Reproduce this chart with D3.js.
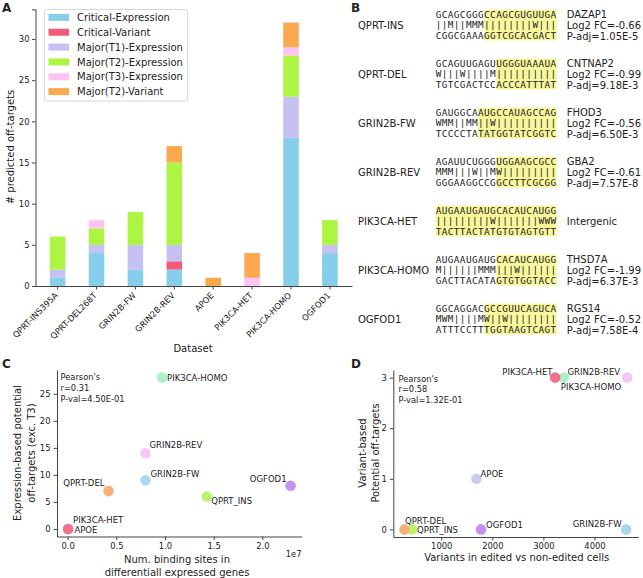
<!DOCTYPE html>
<html><head><meta charset="utf-8">
<script src="https://cdn.jsdelivr.net/npm/d3@7"></script>
<style>body{margin:0;background:#fff}svg{display:block}text{font-family:"DejaVu Sans",sans-serif;fill:#222}</style>
</head><body>
<script>
// ---------- Panel A data ----------
const datasets = ["QPRT-INS395A","QPRT-DEL268T","GRIN2B-FW","GRIN2B-REV","APOE","PIK3CA-HET","PIK3CA-HOMO","OGFOD1"];
const categoriesA = ["Critical-Expression","Critical-Variant","Major(T1)-Expression","Major(T2)-Expression","Major(T3)-Expression","Major(T2)-Variant"];
const criticalExpression = [1,4,2,2,0,0,18,4];
const criticalVariant    = [0,0,0,1,0,0,0,0];
const majorT1Expression  = [1,1,3,2,0,0,5,1];
const majorT2Expression  = [4,2,4,10,0,0,5,3];
const majorT3Expression  = [0,1,0,0,0,1,1,0];
const majorT2Variant     = [0,0,0,2,1,3,3,0];
const yTicksA = [0,5,10,15,20,25,30];
const colorsA = ["#87CEEB","#F25C7A","#C5C1F3","#ADF542","#FFC3F6","#FBA94F"];

// ---------- Panel B data ----------
const bSamples = ["QPRT-INS","QPRT-DEL","GRIN2B-FW","GRIN2B-REV","PIK3CA-HET","PIK3CA-HOMO","OGFOD1"];
const bTop = ["GCAGCGGGCCAGCGUGUUGA","GCAGUUGAGUUGGGUAAAUA","GAUGGCAAUGCCAUAGCCAG","AGAUUCUGGGUGGAAGCGCC","AUGAAUGAUGCACAUCAUGG","AUGAAUGAUGCACAUCAUGG","GGCAGGACGCCGUUCAGUCA"];
const bMid = ["||M||MMM||||||||W|||","W|||W||||M||||||||||","WMM||MM||W||||||||||","MMM|||W||MW|||||||||","|||||||||W|||||||WWW","M||||||MMM|||W||||||","MWM||||MW||W||||||||"];
const bBot = ["CGGCGAAAGGTCGCACGACT","TGTCGACTCCACCCATTTAT","TCCCCTATATGGTATCGGTC","GGGAAGGCCGGCCTTCGCGG","TACTTACTATGTGTAGTGTT","GACTTACATAGTGTGGTACC","ATTTCCTTTGGTAAGTCAGT"];
const bHighlightStart = [8,10,7,10,0,10,8];
const bGene = ["DAZAP1","CNTNAP2","FHOD3","GBA2","Intergenic","THSD7A","RGS14"];
const bLog2FC = ["-0.66","-0.99","-0.56","-0.61",null,"-1.99","-0.52"];
const bPadj = ["1.05E-5","9.18E-3","6.50E-3","7.57E-8",null,"6.37E-3","7.58E-4"];

// ---------- Panels C / D data ----------
const scatterNames = ["APOE","QPRT_INS","QPRT-DEL","GRIN2B-FW","GRIN2B-REV","PIK3CA-HOMO","OGFOD1","PIK3CA-HET"];
const bindingSites = [0.005e7,1.43e7,0.42e7,0.80e7,0.80e7,0.97e7,2.29e7,0.005e7];
const expressionTargets = [0,6,7,9,14,28,8,0];
const variantsEdited = [1690,430,280,4620,4640,3400,1780,3230];
const variantTargets = [1,0,0,0,3,3,0,3];
const pointColors = ["#CBCBF3","#BEF26C","#F6B17A","#A9D8EE","#F6C7F6","#A9F1C6","#C592F1","#F0708F"];
const xTicksC = [0,0.5e7,1e7,1.5e7,2e7];
const yTicksC = [0,5,10,15,20,25];
const xTicksD = [1000,2000,3000,4000];
const yTicksD = [0,1,2,3];
const pearsonC = ["Pearson's","r=0.31","P-val=4.50E-01"];
const pearsonD = ["Pearson's","r=0.58","P-val=1.32E-01"];

const W = 643, H = 578;
const svg = d3.select("body").append("svg").attr("width",W).attr("height",H);
const axisColor = "#444";
const tickFont = "8.4px";

function styleAxis(g){
  g.selectAll(".domain").attr("stroke",axisColor).attr("stroke-width",1);
  g.selectAll(".tick line").attr("stroke",axisColor);
  g.selectAll(".tick text").attr("font-family","DejaVu Sans").attr("font-size",tickFont).attr("fill","#222");
}
function letter(t,x,y){
  svg.append("text").attr("x",x).attr("y",y).attr("font-size","12px").attr("font-weight","bold").text(t);
}

// ================= Panel A =================
{
  const x = d3.scaleBand().domain(datasets).range([35.5,352]).paddingInner(0.6).paddingOuter(0.368);
  const y = d3.scaleLinear().domain([0,33.6]).range([286,9.4]);
  const series = [criticalExpression,criticalVariant,majorT1Expression,majorT2Expression,majorT3Expression,majorT2Variant];
  const rows = datasets.map((d,i)=>{const o={dataset:d};categoriesA.forEach((c,j)=>o[c]=series[j][i]);return o;});
  const stack = d3.stack().keys(categoriesA)(rows);
  const g = svg.append("g");
  g.selectAll("g.layer").data(stack).join("g").attr("fill",(d,i)=>colorsA[i])
    .selectAll("rect").data(d=>d).join("rect")
    .attr("x",d=>x(d.data.dataset)).attr("width",x.bandwidth())
    .attr("y",d=>y(d[1])).attr("height",d=>y(d[0])-y(d[1]));
  const ya = svg.append("g").attr("transform","translate(35.5,0)").call(d3.axisLeft(y).tickValues(yTicksA).tickSize(3.5).tickPadding(2.5));
  styleAxis(ya);
  const xa = svg.append("g").attr("transform","translate(0,286)").call(d3.axisBottom(x).tickSize(3.5).tickSizeOuter(0));
  styleAxis(xa);
  xa.selectAll(".tick text").attr("text-anchor","end").attr("dy",0).attr("y",0)
    .attr("transform","translate(1,10) rotate(-45)");
  svg.append("text").attr("x",193).attr("y",352).attr("text-anchor","middle").attr("font-size","10px").text("Dataset");
  svg.append("text").attr("transform","translate(14,147) rotate(-90)").attr("text-anchor","middle").attr("font-size","10px").text("# predicted off-targets");
  // legend
  const lg = svg.append("g");
  lg.append("rect").attr("x",44.5).attr("y",9.5).attr("width",143).attr("height",91.5).attr("rx",2)
    .attr("fill","rgba(255,255,255,0.8)").attr("stroke","#d8d8d8");
  const ly = d3.scalePoint().domain(categoriesA).range([17.4,91.6]);
  categoriesA.forEach((c,i)=>{
    lg.append("rect").attr("x",48.5).attr("y",ly(c)-3.5).attr("width",20.5).attr("height",7).attr("fill",colorsA[i]);
    lg.append("text").attr("x",77).attr("y",ly(c)+3.6).attr("font-size","10px").text(c);
  });
  letter("A",2,12);
}

// ================= Panel B =================
{
  letter("B",351,12);
  const ry = d3.scalePoint().domain(bSamples).range([25,319]);
  const cw = 6.05, x0 = 435.7;
  const cx = d3.scaleLinear().domain([0,20]).range([x0,x0+20*cw]);
  bSamples.forEach((s,i)=>{
    const cy = ry(s);
    svg.append("rect").attr("x",cx(bHighlightStart[i])).attr("y",cy-15.5).attr("width",cx(20)-cx(bHighlightStart[i])).attr("height",31).attr("fill","#F8F79C");
    svg.append("text").attr("x",358).attr("y",cy+3.6).attr("font-size","10px").text(s);
    [bTop[i],bMid[i],bBot[i]].forEach((line,k)=>{
      const ly = cy + (k-1)*10.6 + 3.2;
      svg.append("text").attr("x",cx(0)).attr("y",ly).attr("font-size","9.4px")
        .attr("font-family","DejaVu Sans Mono").style("font-family","'DejaVu Sans Mono',monospace")
        .attr("letter-spacing","0.4px").attr("fill","#222").text(line);
    });
    const rx = 566.7;
    if (bLog2FC[i]===null){
      svg.append("text").attr("x",rx).attr("y",cy+3.6).attr("font-size","10px").text(bGene[i]);
    } else {
      svg.append("text").attr("x",rx).attr("y",cy-11+3.6).attr("font-size","10px").text(bGene[i]);
      svg.append("text").attr("x",rx).attr("y",cy+3.6).attr("font-size","10px").text("Log2 FC="+bLog2FC[i]);
      svg.append("text").attr("x",rx).attr("y",cy+11+3.6).attr("font-size","10px").text("P-adj="+bPadj[i]);
    }
  });
}

// ================= Panel C =================
function padDomain(arr){const e=d3.extent(arr);const r=e[1]-e[0];return [e[0]-0.05*r,e[1]+0.05*r];}
{
  letter("C",2,368);
  const x = d3.scaleLinear().domain(padDomain(bindingSites)).range([57,301.7]);
  const y = d3.scaleLinear().domain(padDomain(expressionTargets)).range([536.5,370]);
  const xa = svg.append("g").attr("transform","translate(0,536.5)").call(d3.axisBottom(x).tickValues(xTicksC).tickFormat(v=>(v/1e7).toFixed(1)).tickSize(3.5).tickSizeOuter(0));
  styleAxis(xa);
  const ya = svg.append("g").attr("transform","translate(57,0)").call(d3.axisLeft(y).tickValues(yTicksC).tickSize(3.5).tickSizeOuter(0));
  styleAxis(ya);
  svg.append("text").attr("x",301.5).attr("y",557).attr("text-anchor","end").attr("font-size",tickFont).text("1e7");
  svg.append("text").attr("x",177).attr("y",563).attr("text-anchor","middle").attr("font-size","10px").text("Num. binding sites in");
  svg.append("text").attr("x",177).attr("y",576).attr("text-anchor","middle").attr("font-size","10px").text("differentiall expressed genes");
  svg.append("text").attr("transform","translate(21,453) rotate(-90)").attr("text-anchor","middle").attr("font-size","10px").text("Expression-based potential");
  svg.append("text").attr("transform","translate(35,453) rotate(-90)").attr("text-anchor","middle").attr("font-size","10px").text("off-targets (exc. T3)");
  pearsonC.forEach((t,i)=>svg.append("text").attr("x",60.5).attr("y",380+i*10.8).attr("font-size","8.3px").text(t));
  scatterNames.forEach((n,i)=>{
    svg.append("circle").attr("cx",x(bindingSites[i])).attr("cy",y(expressionTargets[i])).attr("r",5.3).attr("fill",pointColors[i]);
  });
  const lab = {"PIK3CA-HOMO":[5,3,"start"],"GRIN2B-REV":[4,-5,"start"],"GRIN2B-FW":[5,-3,"start"],"QPRT-DEL":[-4,-5,"end"],
    "QPRT_INS":[4.4,8,"start"],"OGFOD1":[-4,-3.6,"end"],"PIK3CA-HET":[5,-5.7,"start"],"APOE":[6.3,4.3,"start"]};
  scatterNames.forEach((n,i)=>{
    const o = lab[n];
    svg.append("text").attr("x",x(bindingSites[i])+o[0]).attr("y",y(expressionTargets[i])+o[1]).attr("text-anchor",o[2]).attr("font-size","8.5px").text(n);
  });
}

// ================= Panel D =================
{
  letter("D",351,368);
  const x = d3.scaleLinear().domain(padDomain(variantsEdited)).range([393.3,638.3]);
  const y = d3.scaleLinear().domain(padDomain(variantTargets)).range([537,370]);
  const xa = svg.append("g").attr("transform","translate(0,537)").call(d3.axisBottom(x).tickValues(xTicksD).tickFormat(d3.format("d")).tickSize(3.5).tickSizeOuter(0));
  styleAxis(xa);
  const ya = svg.append("g").attr("transform","translate(393.3,0)").call(d3.axisLeft(y).tickValues(yTicksD).tickFormat(d3.format("d")).tickSize(3.5).tickSizeOuter(0));
  styleAxis(ya);
  svg.append("text").attr("x",516.7).attr("y",561).attr("text-anchor","middle").attr("font-size","10px").text("Variants in edited vs non-edited cells");
  svg.append("text").attr("transform","translate(366,453) rotate(-90)").attr("text-anchor","middle").attr("font-size","10px").text("Variant-based");
  svg.append("text").attr("transform","translate(379,453) rotate(-90)").attr("text-anchor","middle").attr("font-size","10px").text("Potential off-targets");
  pearsonD.forEach((t,i)=>svg.append("text").attr("x",398.5).attr("y",382+i*10.4).attr("font-size","8.3px").text(t));
  scatterNames.forEach((n,i)=>{
    svg.append("circle").attr("cx",x(variantsEdited[i])).attr("cy",y(variantTargets[i])).attr("r",5.3).attr("fill",pointColors[i]);
  });
  const lab = {"PIK3CA-HET":[-2.6,-2.4,"end"],"GRIN2B-REV":[-7,-2.4,"end"],"PIK3CA-HOMO":[-3,12,"start"],"APOE":[4,-1.8,"start"],
    "QPRT-DEL":[0.6,-5.3,"start"],"QPRT_INS":[5,3.7,"start"],"OGFOD1":[5,-1.3,"start"],"GRIN2B-FW":[-4.5,-2.3,"end"]};
  scatterNames.forEach((n,i)=>{
    const o = lab[n];
    svg.append("text").attr("x",x(variantsEdited[i])+o[0]).attr("y",y(variantTargets[i])+o[1]).attr("text-anchor",o[2]).attr("font-size","8.5px").text(n);
  });
}
</script>
</body></html>
